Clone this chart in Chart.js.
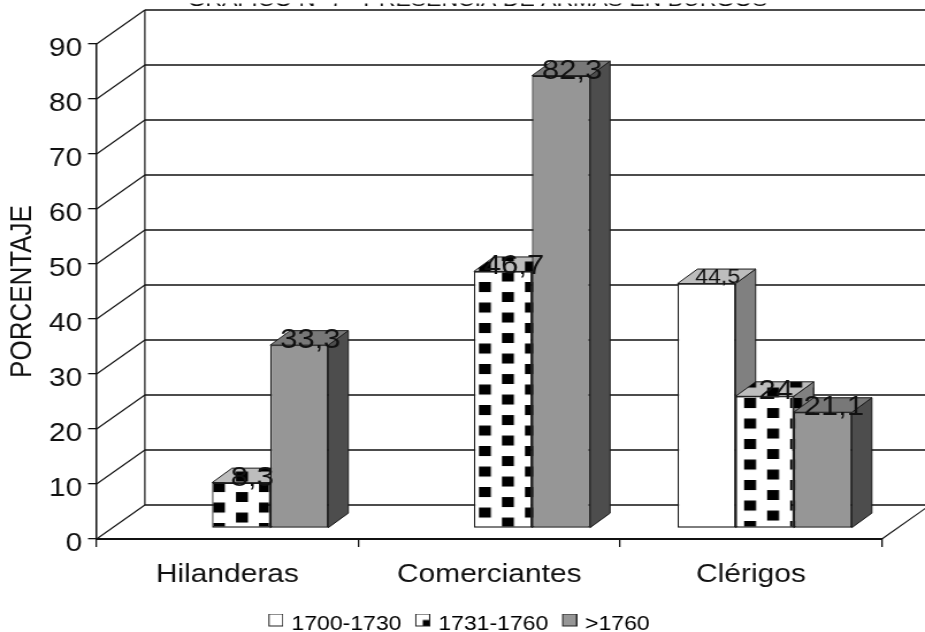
<!DOCTYPE html>
<html><head><meta charset="utf-8">
<style>
html,body{margin:0;padding:0;background:#fff;overflow:hidden}
canvas{display:block;transform-origin:0 0;transform:scaleX(1.1505)}
</style>
<script src="https://cdn.jsdelivr.net/npm/chart.js@4"></script>
</head><body><canvas id="c" width="804" height="632"></canvas>
<script>
const titleText = 'GRÁFICO Nº 7 - PRESENCIA DE ARMAS EN BURGOS';
const yTitle = 'PORCENTAJE';
const categories = ['Hilanderas','Comerciantes','Clérigos'];
const seriesNames = ['1700-1730','1731-1760','>1760'];
const early = [null,null,44.5];
const middle = [8.3,46.7,24];
const late = [33.3,82.3,21.1];
const yTicks = {min:0,max:90,step:10};

const FONT='"Liberation Sans", Arial, sans-serif';
const wall={dx:42,dy:-34};
const barShift={dx:11.9,dy:-10.7};
const barDepth={dx:17.4,dy:-14.5};
const faces=[
 {front:'#ffffff',top:'#bdbdbd',side:'#808080'},
 {front:'#ffffff',top:'#bdbdbd',side:'#808080'},
 {front:'#969696',top:'#787878',side:'#4d4d4d'}
];
// pattern phase per category (canvas px)
const phases=[[185.1,482],[416.3,282],[646.7,398]];

function tile(bg){
  const t=document.createElement('canvas');t.width=40;t.height=41;
  const g=t.getContext('2d');g.fillStyle=bg;g.fillRect(0,0,40,41);
  g.fillStyle='#000';
  g.fillRect(0,0,10.4,10);g.fillRect(0,20.5,10.4,10);
  g.fillRect(20,10,10.4,10);g.fillRect(20,30.5,10.4,10);
  return t;
}
function pat(bg,i,ox,oy){
  const p=document.createElement('canvas').getContext('2d').createPattern(tile(bg),'repeat');
  p.setTransform(new DOMMatrix([1,0,0,1,phases[i][0]+ox,phases[i][1]+oy]));
  return p;
}
const frontPatterns=categories.map((c,i)=>pat('#ffffff',i,-barShift.dx,-barShift.dy));
const topPatterns=categories.map((c,i)=>pat(faces[1].top,i,0,0));
const sidePatterns=categories.map((c,i)=>pat(faces[1].side,i,0,0));

function marker(kind){
  const t=document.createElement('canvas');t.width=19;t.height=21;
  const g=t.getContext('2d');
  g.translate(6,0);
  g.fillStyle=kind===2?'#969696':'#fff';g.fillRect(0,0,13,13);
  if(kind===1){g.fillStyle='#000';g.fillRect(6.5,6.5,6.5,6.5);}
  g.strokeStyle='#222';g.lineWidth=1;g.strokeRect(.5,.5,12,12);
  return t;
}
const markers=[marker(0),marker(1),marker(2)];

function poly(ctx,pts,fill){
  ctx.beginPath();pts.forEach((p,i)=>i?ctx.lineTo(p[0],p[1]):ctx.moveTo(p[0],p[1]));ctx.closePath();
  ctx.fillStyle=fill;ctx.fill();ctx.strokeStyle='#1a1a1a';ctx.lineWidth=1;ctx.stroke();
}
function seg(ctx,x1,y1,x2,y2,w){
  ctx.beginPath();ctx.moveTo(x1,y1);ctx.lineTo(x2,y2);ctx.lineWidth=w;ctx.strokeStyle='#111';ctx.stroke();
}
const look3d={
  id:'look3d',
  beforeLayout(chart){
    const l=chart.legend;
    if(l&&!l._fixed){const f=l.fit.bind(l);l.fit=function(){f();l.height=30;};l._fixed=true;}
  },
  afterLayout(chart){
    const l=chart.legend;l.left=197.5;l.right=597.5;l.top=605;l.bottom=632;
  },
  beforeDatasetsDraw(chart){
    const ctx=chart.ctx,y=chart.scales.y,x=chart.scales.x;
    const L=x.left,R=x.right,B=y.getPixelForValue(yTicks.min),T=y.getPixelForValue(yTicks.max);
    ctx.save();
    ctx.save();
    ctx.beginPath();ctx.rect(0,3.5,chart.width,10);ctx.clip();
    ctx.fillStyle='#111';ctx.font='20px '+FONT;ctx.textAlign='center';ctx.textBaseline='alphabetic';
    ctx.fillText(titleText,415,5.6);
    ctx.restore();
    for(let v=yTicks.min;v<=yTicks.max;v+=yTicks.step){
      const p=y.getPixelForValue(v);
      seg(ctx,L,p,L+wall.dx,p+wall.dy,1.1);
      seg(ctx,L+wall.dx,p+wall.dy,R+wall.dx,p+wall.dy,v===0||v===yTicks.max?1.7:1.3);
    }
    seg(ctx,L+wall.dx,T+wall.dy,L+wall.dx,B+wall.dy,1.2);
    seg(ctx,R,B,R+wall.dx,B+wall.dy,1.1);
    // depth faces of the bars
    chart.data.datasets.forEach((ds,di)=>{
      chart.getDatasetMeta(di).data.forEach((el,ci)=>{
        if(ds.data[ci]==null)return;
        const a=el.x-el.width/2+barShift.dx,b=el.x+el.width/2+barShift.dx;
        const t=el.y+barShift.dy,bt=el.base+barShift.dy;
        const d=barDepth;
        const isPat=di===1;
        poly(ctx,[[b,t],[b+d.dx,t+d.dy],[b+d.dx,bt+d.dy],[b,bt]],isPat?sidePatterns[ci]:faces[di].side);
        poly(ctx,[[a,t],[a+d.dx,t+d.dy],[b+d.dx,t+d.dy],[b,t]],isPat?topPatterns[ci]:faces[di].top);
      });
    });
    ctx.restore();
    ctx.save();ctx.translate(barShift.dx,barShift.dy);
  },
  afterDatasetsDraw(chart){
    const ctx=chart.ctx;ctx.restore();ctx.save();
    ctx.fillStyle='#111';ctx.textAlign='center';ctx.textBaseline='alphabetic';
    chart.data.datasets.forEach((ds,di)=>{
      chart.getDatasetMeta(di).data.forEach((el,ci)=>{
        const v=ds.data[ci];if(v==null)return;
        ctx.font=(di===0?20:27)+'px '+FONT;
        ctx.fillText(String(v).replace('.',','),el.x+barShift.dx+barDepth.dx/2+1,el.y+barShift.dy+(di===0?-1:3));
      });
    });
    ctx.restore();
  }
};
Chart.register(look3d);
new Chart(document.getElementById('c'),{
  type:'bar',
  data:{labels:categories,datasets:[
    {label:seriesNames[0],data:early,backgroundColor:faces[0].front},
    {label:seriesNames[1],data:middle,backgroundColor:frontPatterns},
    {label:seriesNames[2],data:late,backgroundColor:faces[2].front}
  ].map(d=>Object.assign(d,{borderColor:'#1a1a1a',borderWidth:1.3,borderSkipped:false,categoryPercentage:0.666,barPercentage:1,clip:false}))},
  options:{
    responsive:false,animation:false,
    layout:{padding:{left:0,right:37.5,top:44,bottom:0}},
    plugins:{
      tooltip:{enabled:false},
      legend:{position:'bottom',labels:{
        color:'#111',font:{family:FONT,size:20},usePointStyle:true,pointStyleWidth:13,boxHeight:13,padding:9,
        generateLabels:()=>seriesNames.map((n,i)=>({text:n,fillStyle:'#fff',strokeStyle:'#222',lineWidth:1,pointStyle:markers[i],datasetIndex:i,hidden:false}))
      }}
    },
    scales:{
      x:{
        afterFit(s){s.height=63;},
        ticks:{color:'#111',font:{family:FONT,size:26},padding:12,maxRotation:0},
        grid:{drawOnChartArea:false,drawTicks:true,tickLength:8,color:'#111',lineWidth:1.3},
        border:{color:'#111',width:2}
      },
      y:{
        min:yTicks.min,max:yTicks.max,
        afterFit(s){s.width=83.9;},
        ticks:{stepSize:yTicks.step,color:'#111',font:{family:FONT,size:26},padding:5,labelOffset:5},
        grid:{drawOnChartArea:false,drawTicks:true,tickLength:7.4,color:'#111',lineWidth:1.3},
        border:{color:'#111',width:1.5},
        title:{display:true,text:yTitle,color:'#111',font:{family:FONT,size:26},padding:{top:4,bottom:0}}
      }
    }
  }
});
</script></body></html>
